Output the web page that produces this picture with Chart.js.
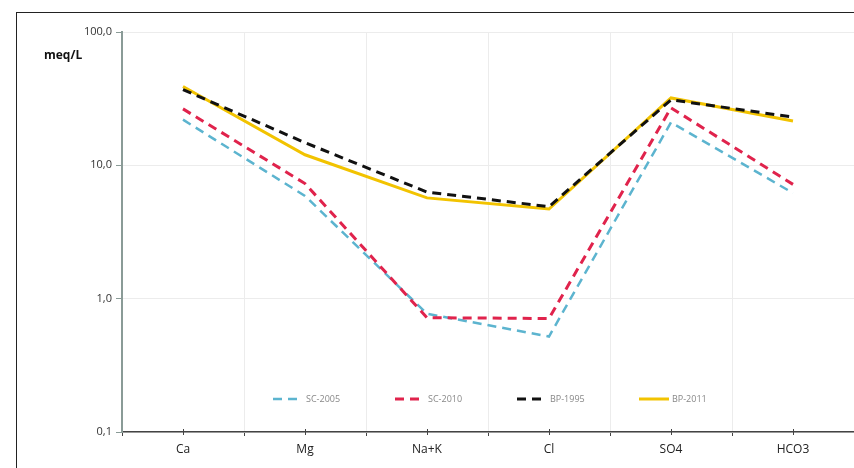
<!DOCTYPE html>
<html>
<head>
<meta charset="utf-8">
<script src="https://cdn.jsdelivr.net/npm/chart.js@4.4.0/dist/chart.umd.min.js"></script>
<style>
    body { margin: 0; background: #fff; }
    #wrap { position: relative; width: 854px; height: 468px; }
    #frame { position: absolute; left: 16px; top: 12px; width: 860px; height: 470px;
             border-top: 1.5px solid #222; border-left: 1.5px solid #222; }
    canvas { position: absolute; left: 0; top: 0; }
</style>
</head>
<body>
<div id="wrap">
    <div id="frame"></div>
    <canvas id="ionChart" width="854" height="468"></canvas>
</div>
<script>
// Categories and series (meq/L)
const ions = ['Ca', 'Mg', 'Na+K', 'Cl', 'SO4', 'HCO3'];
const sc2005 = [22, 5.9, 0.77, 0.52, 21, 6.2];
const sc2010 = [26.5, 7.3, 0.72, 0.71, 27, 7.2];
const bp1995 = [37, 14.8, 6.3, 4.9, 31, 23];
const bp2011 = [39, 12, 5.7, 4.7, 32, 21.5];
const yTicks = [0.1, 1, 10, 100];
const seriesNames = ['SC-2005', 'SC-2010', 'BP-1995', 'BP-2011'];

const font = '"Open Sans", "Noto Sans", sans-serif';

// Legend drawn inside the plot area, the unit label and small ticks at category centres
const insideLegend = {
    id: 'insideLegend',
    afterDraw(chart) {
        const ctx = chart.ctx;
        const area = chart.chartArea;
        const xs = chart.scales.x;
        const y = 399;
        ctx.save();
        chart.data.datasets.forEach((ds, i) => {
            const x0 = area.left + 151 + i * 122;
            ctx.beginPath();
            ctx.strokeStyle = ds.borderColor;
            ctx.lineWidth = ds.borderWidth;
            ctx.setLineDash(ds.borderDash || []);
            ctx.moveTo(x0, y);
            ctx.lineTo(x0 + 30, y);
            ctx.stroke();
            ctx.setLineDash([]);
            ctx.fillStyle = '#888';
            ctx.font = '9px ' + font;
            ctx.textBaseline = 'middle';
            ctx.textAlign = 'left';
            ctx.fillText(ds.label, x0 + 33, y);
        });
        // minor ticks under each category
        ctx.strokeStyle = '#444';
        ctx.lineWidth = 1;
        ions.forEach((_, i) => {
            const px = Math.round(xs.getPixelForValue(i)) + 0.5;
            ctx.beginPath();
            ctx.moveTo(px, area.bottom - 3);
            ctx.lineTo(px, area.bottom + 3);
            ctx.stroke();
        });
        ctx.fillStyle = '#111';
        ctx.font = 'bold 12px ' + font;
        ctx.textAlign = 'left';
        ctx.textBaseline = 'middle';
        ctx.fillText('meq/L', 44, 56);
        ctx.restore();
    }
};

const ctx = document.getElementById('ionChart').getContext('2d');
new Chart(ctx, {
    type: 'line',
    data: {
        labels: ions,
        datasets: [
            { label: seriesNames[0], data: sc2005, borderColor: '#5cb4cf', borderWidth: 2.5, borderDash: [9, 6], order: 4 },
            { label: seriesNames[1], data: sc2010, borderColor: '#e0234c', borderWidth: 3, borderDash: [9, 6], order: 2 },
            { label: seriesNames[2], data: bp1995, borderColor: '#111111', borderWidth: 3, borderDash: [9, 6], order: 1 },
            { label: seriesNames[3], data: bp2011, borderColor: '#f2c300', borderWidth: 3, order: 3 }
        ]
    },
    options: {
        responsive: false,
        animation: false,
        layout: { padding: { left: 0, right: 0, top: 32, bottom: 0 } },
        elements: {
            point: { radius: 0 },
            line: { tension: 0, fill: false, borderCapStyle: 'butt' }
        },
        plugins: {
            legend: { display: false },
            tooltip: { enabled: false }
        },
        scales: {
            x: {
                offset: true,
                grid: { offset: true, color: '#ececec', drawTicks: true, tickLength: 4, tickColor: '#444' },
                border: { color: '#444', width: 1.5 },
                ticks: { color: '#222', font: { family: font, size: 12 }, padding: 6 },
                afterFit(scale) { scale.height = 36; }
            },
            y: {
                type: 'logarithmic',
                min: 0.1,
                max: 100,
                afterBuildTicks(scale) { scale.ticks = yTicks.map(v => ({ value: v })); },
                grid: { color: '#ececec', tickLength: 6, tickColor: '#8a9b97' },
                border: { color: '#8a9b97', width: 2 },
                ticks: {
                    color: '#333',
                    font: { family: font, size: 11 },
                    padding: 4,
                    callback: v => v.toFixed(1).replace('.', ',')
                },
                afterFit(scale) { scale.width = 122; }
            }
        }
    },
    plugins: [insideLegend]
});
</script>
</body>
</html>
